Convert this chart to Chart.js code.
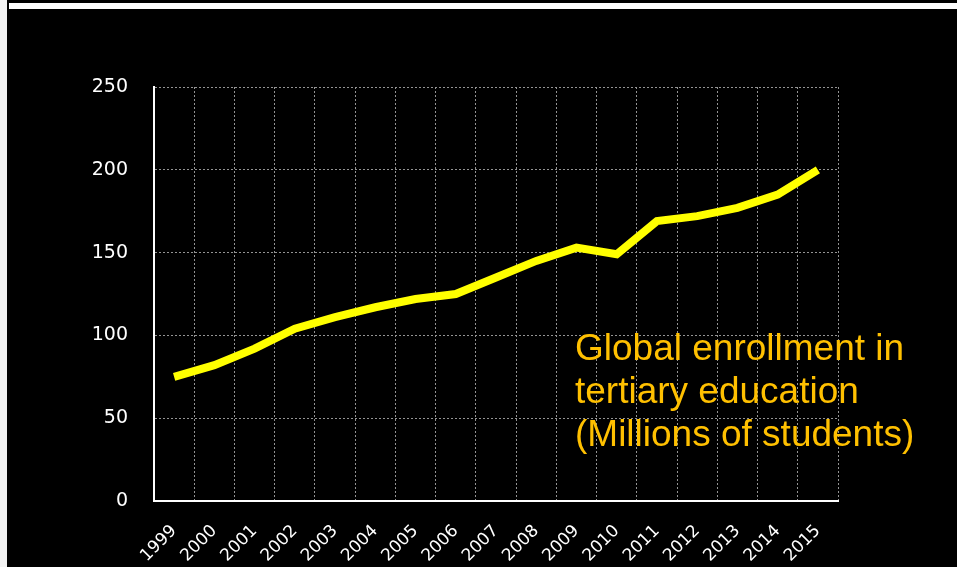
<!DOCTYPE html>
<html>
<head>
<meta charset="utf-8">
<script src="https://cdn.jsdelivr.net/npm/chart.js@4"></script>
<style>
    html, body {
        margin: 0;
        padding: 0;
        background: #000;
        overflow: hidden;
    }
    #wrap {
        position: relative;
        width: 957px;
        height: 567px;
        background: #000;
    }
    #leftBar {
        position: absolute;
        left: 0;
        top: 0;
        width: 7px;
        height: 567px;
        background: #f2f2f2;
    }
    #topBar {
        position: absolute;
        left: 9px;
        top: 3px;
        width: 948px;
        height: 6px;
        background: #fff;
    }
    #chart {
        position: absolute;
        left: 0;
        top: 0;
    }
</style>
</head>
<body>
<div id="wrap">
    <div id="leftBar"></div>
    <div id="topBar"></div>
    <canvas id="chart" width="957" height="567"></canvas>
</div>
<script>
const years = ['1999', '2000', '2001', '2002', '2003', '2004', '2005', '2006', '2007',
               '2008', '2009', '2010', '2011', '2012', '2013', '2014', '2015'];
const enrollment = [75, 82, 92, 104, 111, 117, 122, 125, 135,
                    145, 153, 149, 169, 172, 177, 185, 200];
const yTicks = [0, 50, 100, 150, 200, 250];
const noteLines = ['Global enrollment in', 'tertiary education', '(Millions of students)'];

// texto amarillo a la derecha del gráfico
const notePlugin = {
    id: 'note',
    afterDraw(chart) {
        const ctx = chart.ctx;
        ctx.save();
        ctx.fillStyle = '#ffc000';
        ctx.font = '37px "Liberation Sans", Arial, sans-serif';
        ctx.textAlign = 'left';
        ctx.textBaseline = 'alphabetic';
        noteLines.forEach(function(line, i) {
            ctx.fillText(line, 575, 360 + i * 43);
        });
        ctx.restore();
    }
};

function crearGrafica() {
    const ctx = document.getElementById('chart').getContext('2d');
    new Chart(ctx, {
        type: 'line',
        data: {
            labels: years,
            datasets: [{
                data: enrollment,
                borderColor: '#ffff00',
                borderWidth: 8,
                pointRadius: 0,
                tension: 0,
                fill: false
            }]
        },
        options: {
            responsive: false,
            animation: false,
            layout: {
                padding: { top: 87, right: 119, left: 0, bottom: 0 }
            },
            plugins: {
                legend: { display: false },
                tooltip: { enabled: false }
            },
            scales: {
                x: {
                    offset: true,
                    afterFit(scale) { scale.height = 66; },
                    grid: {
                        offset: true,
                        color: '#939393',
                        lineWidth: 1,
                        drawTicks: false
                    },
                    border: {
                        color: '#ffffff',
                        width: 2,
                        dash: [2, 2]
                    },
                    ticks: {
                        color: '#ffffff',
                        maxRotation: 45,
                        minRotation: 45,
                        padding: 20,
                        font: { family: '"DejaVu Sans", sans-serif', size: 17 }
                    }
                },
                y: {
                    min: 0,
                    max: 250,
                    afterFit(scale) { scale.width = 154; },
                    afterBuildTicks(scale) {
                        scale.ticks = yTicks.map(v => ({ value: v }));
                    },
                    grid: {
                        color: '#939393',
                        lineWidth: 1,
                        drawTicks: false
                    },
                    border: {
                        color: '#ffffff',
                        width: 2,
                        dash: [2, 2]
                    },
                    ticks: {
                        color: '#ffffff',
                        padding: 26,
                        font: { family: '"DejaVu Sans", sans-serif', size: 19 }
                    }
                }
            }
        },
        plugins: [notePlugin]
    });
}

crearGrafica();
</script>
</body>
</html>
